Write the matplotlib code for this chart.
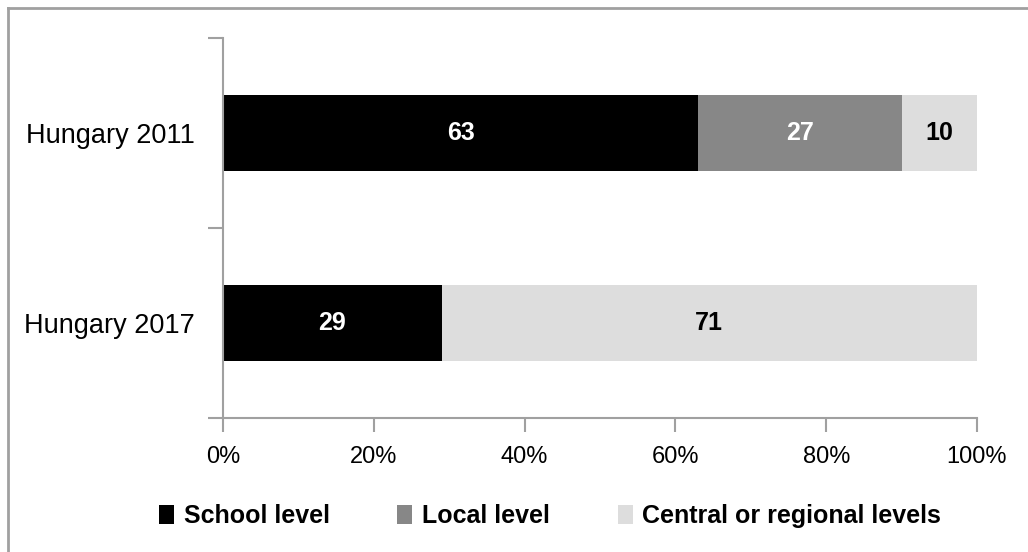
import matplotlib.pyplot as plt
from matplotlib.patches import Patch
from matplotlib.lines import Line2D
import numpy as np

plt.rcParams["font.family"] = ["Liberation Sans", "DejaVu Sans"]

countries = ["Hungary 2017", "Hungary 2011"]
levels = ["School level", "Local level", "Central or regional levels"]
school = [29, 63]
local = [0, 27]
central = [71, 10]

colors = ["#000000", "#878787", "#dddddd"]
label_colors = ["white", "white", "black"]

fig = plt.figure(figsize=(10.28, 5.52), dpi=100)
ax = fig.add_axes([223 / 1028, 134 / 552, 754 / 1028, 380 / 552])

y = np.arange(len(countries))
left = np.zeros(len(countries))
for vals, c, tc in zip([school, local, central], colors, label_colors):
    vals = np.array(vals, dtype=float)
    ax.barh(y, vals / 100, left=left / 100, height=0.395, color=c, edgecolor="none")
    for yi, v, l in zip(y, vals, left):
        if v > 0:
            ax.text((l + v / 2) / 100, yi, f"{v:.0f}", ha="center", va="center",
                    color=tc, fontsize=18, fontweight="bold")
    left += vals

ax.set_xlim(0, 1)
ax.set_ylim(-0.5, 1.5)
ticks = np.arange(0, 1.01, 0.2)
ax.set_xticks(ticks)
ax.set_xticklabels([f"{int(round(t * 100))}%" for t in ticks])
ax.set_yticks(y)
ax.set_yticklabels(countries)
ax.set_yticks([-0.5, 0.5, 1.5], minor=True)
ax.tick_params(axis="y", which="major", length=0, pad=20, labelsize=19.5)
ax.tick_params(axis="y", which="minor", length=11, width=1.5, color="#a0a0a0")
ax.tick_params(axis="x", length=10, width=1.5, color="#a0a0a0", pad=10, labelsize=17)

for s in ["top", "right"]:
    ax.spines[s].set_visible(False)
for s in ["left", "bottom"]:
    ax.spines[s].set_color("#a0a0a0")
    ax.spines[s].set_linewidth(1.5)

# outer chart frame (top and left edges)
fig.add_artist(Line2D([8 / 1028, 1], [1 - 8 / 552, 1 - 8 / 552], color="#a0a0a0", lw=2))
fig.add_artist(Line2D([8 / 1028, 8 / 1028], [0, 1 - 8 / 552], color="#a0a0a0", lw=2))

handles = [Patch(facecolor=c, edgecolor="none") for c in colors]
fig.legend(handles, levels, loc="center", bbox_to_anchor=(550 / 1028, 1 - 516 / 552),
           ncol=3, frameon=False, handlelength=0.6, handleheight=0.8, handletextpad=0.4,
           columnspacing=2.7, prop={"size": 18, "weight": "bold"})

fig.savefig("out.png", dpi=100)
